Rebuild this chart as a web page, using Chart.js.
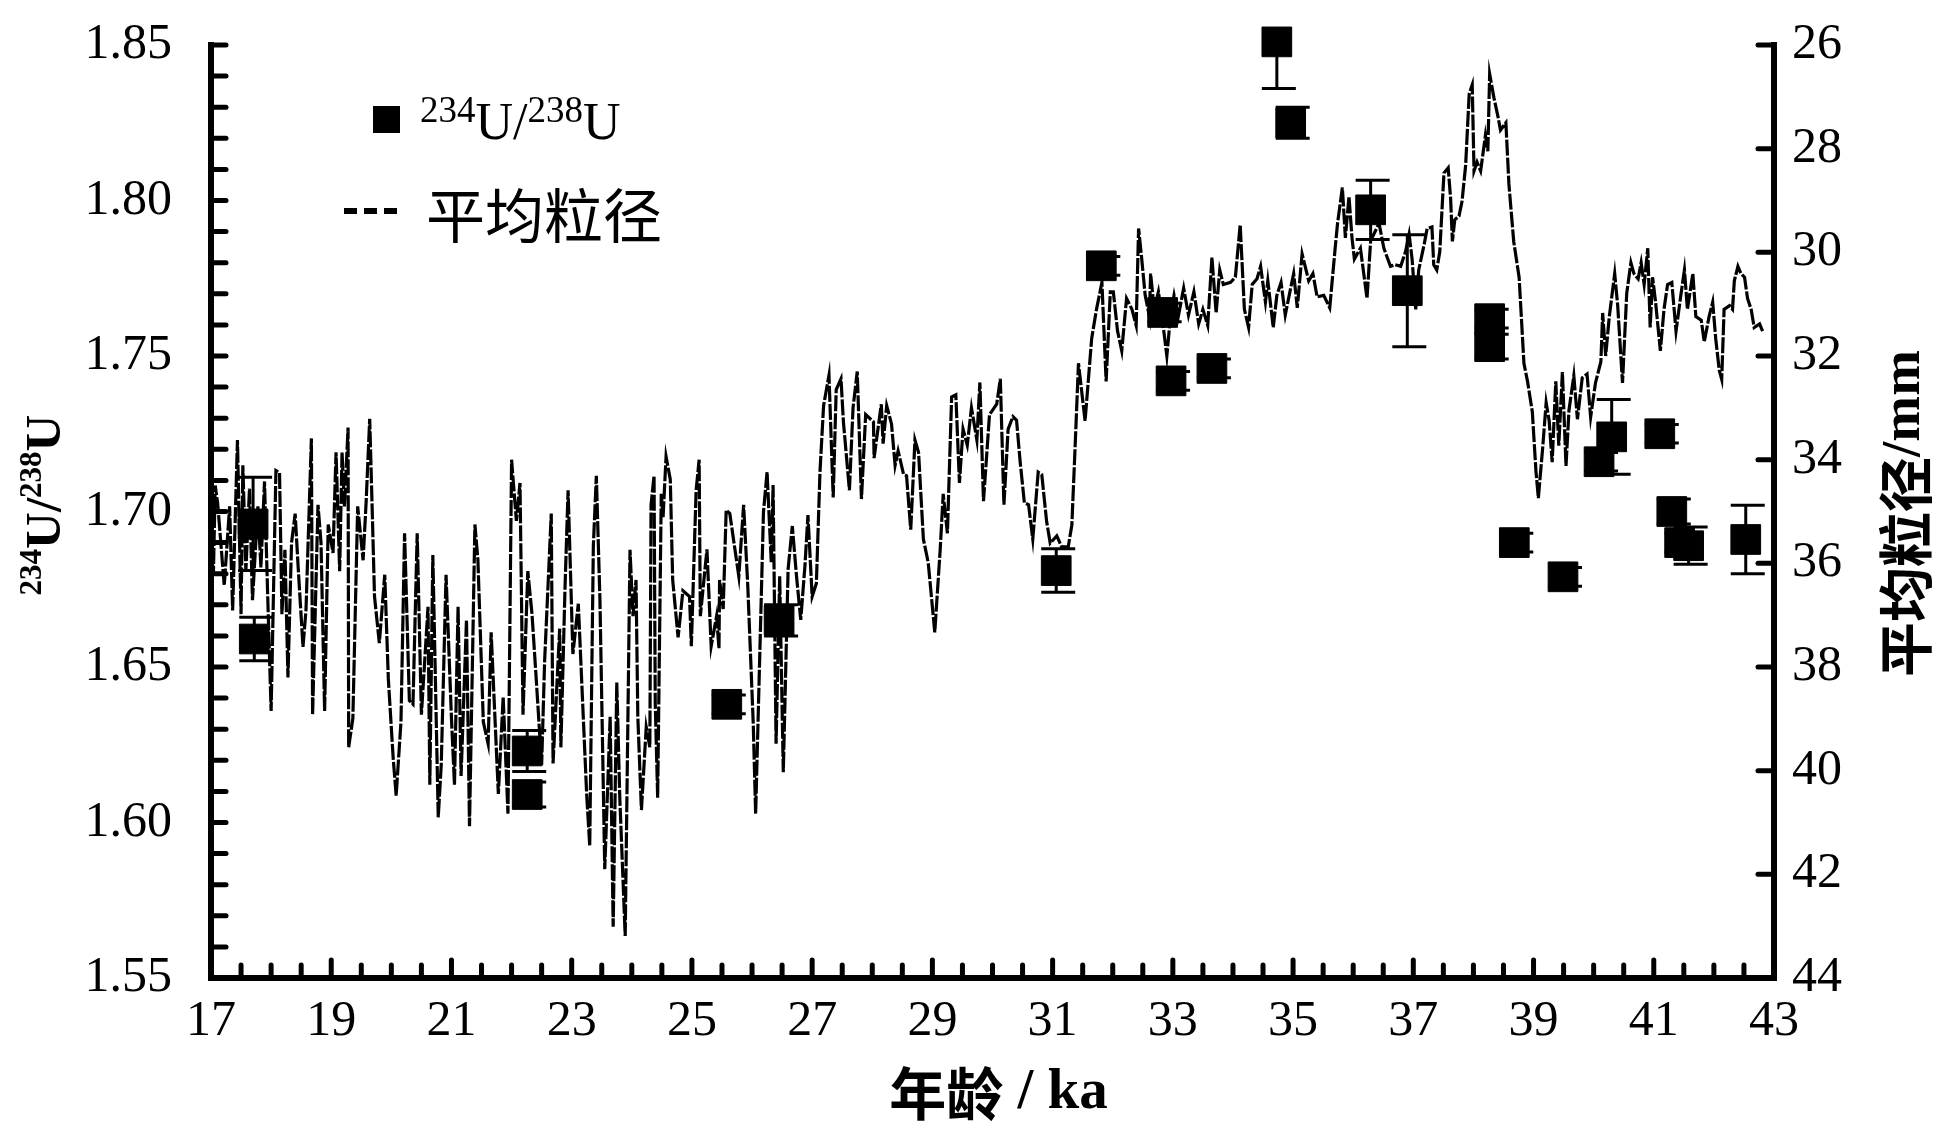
<!DOCTYPE html>
<html lang="zh">
<head>
<meta charset="utf-8">
<title>234U/238U 与平均粒径</title>
<script src="https://cdn.jsdelivr.net/npm/chart.js@4.4.1/dist/chart.umd.min.js"></script>
<style>
    html, body { margin: 0; padding: 0; background: #fff; }
    #wrap { position: relative; width: 1937px; height: 1137px; }
</style>
</head>
<body>
<div id="wrap"><canvas id="chart"></canvas></div>
<script>
( function () {
    'use strict';

    /* ── Tick labels ── */
    var xTicks  = [ 17, 19, 21, 23, 25, 27, 29, 31, 33, 35, 37, 39, 41, 43 ];
    var yTicks  = [ 1.55, 1.60, 1.65, 1.70, 1.75, 1.80, 1.85 ];
    var y2Ticks = [ 26, 28, 30, 32, 34, 36, 38, 40, 42, 44 ];

    /* ── 234U/238U (ka, ratio, ±err) ── */
    var uAge   = [ 17.70, 17.72, 22.26, 22.26, 25.58, 26.45, 31.06, 31.81, 32.83, 32.97, 33.65, 34.73, 34.96,
                   36.29, 36.90, 38.27, 38.27, 38.68, 39.49, 40.09, 40.30, 41.10, 41.30, 41.43, 41.58, 42.53 ];
    var uRatio = [ 1.696, 1.659, 1.623, 1.609, 1.638, 1.665, 1.681, 1.779, 1.764, 1.742, 1.746, 1.851, 1.825,
                   1.797, 1.771, 1.762, 1.753, 1.690, 1.679, 1.716, 1.724, 1.725, 1.700, 1.690, 1.689, 1.691 ];
    var uErr   = [ 0.015, 0.007, 0.0066, 0.004, 0.003, 0.005, 0.007, 0.003, 0.003, 0.003, 0.003, 0.015, 0.005,
                   0.0095, 0.018, 0.003, 0.004, 0.003, 0.003, 0.003, 0.012, 0.003, 0.004, 0.003, 0.006, 0.011 ];

    /* ── 平均粒径 (ka, mm) ── */
    var grainAge = [
        17.01, 17.04, 17.07, 17.11, 17.22, 17.31, 17.36, 17.44, 17.50, 17.53, 17.58, 17.64, 17.69, 17.78, 17.83,
        17.89, 17.94, 18.00, 18.08, 18.14, 18.18, 18.23, 18.28, 18.34, 18.40, 18.45, 18.53, 18.58, 18.67, 18.69,
        18.78, 18.83, 18.89, 18.95, 19.03, 19.08, 19.14, 19.18, 19.22, 19.28, 19.29, 19.36, 19.44, 19.53, 19.58,
        19.64, 19.68, 19.72, 19.80, 19.89, 19.95, 20.03, 20.08, 20.16, 20.22, 20.30, 20.36, 20.43, 20.50, 20.61,
        20.64, 20.69, 20.78, 20.83, 20.91, 21.00, 21.05, 21.11, 21.16, 21.25, 21.30, 21.39, 21.44, 21.53, 21.61,
        21.66, 21.78, 21.86, 21.94, 22.00, 22.08, 22.14, 22.19, 22.27, 22.34, 22.41, 22.50, 22.55, 22.66, 22.69,
        22.80, 22.82, 22.89, 22.94, 23.02, 23.11, 23.25, 23.30, 23.36, 23.41, 23.47, 23.52, 23.55, 23.64, 23.69,
        23.75, 23.80, 23.89, 23.97,
        24.02, 24.07, 24.10, 24.16, 24.24, 24.30, 24.32, 24.37, 24.39, 24.43, 24.49, 24.52, 24.57, 24.64, 24.68,
        24.77, 24.85, 24.96, 24.99, 25.07, 25.12, 25.14, 25.25, 25.32, 25.41, 25.45, 25.46, 25.52, 25.57, 25.63,
        25.78, 25.86, 25.93, 26.02, 26.06, 26.13, 26.19, 26.25, 26.32, 26.35, 26.40, 26.46, 26.52, 26.60, 26.67,
        26.74, 26.81, 26.88, 26.93, 27.00, 27.07, 27.13, 27.19, 27.28, 27.35, 27.40, 27.48, 27.52, 27.62, 27.68,
        27.75, 27.82, 27.89, 28.02, 28.03, 28.15, 28.18, 28.24, 28.32, 28.38, 28.43, 28.52, 28.57, 28.64, 28.71,
        28.77, 28.85, 28.93, 29.04, 29.13, 29.18, 29.25, 29.32, 29.39, 29.45, 29.51, 29.58, 29.65, 29.74, 29.79,
        29.85, 29.95, 30.07, 30.13, 30.19, 30.26, 30.34, 30.40, 30.46, 30.53, 30.60, 30.67, 30.76,
        30.82, 30.90, 30.96, 31.07, 31.15, 31.26, 31.32, 31.37, 31.43, 31.54, 31.65, 31.73, 31.82, 31.89, 31.96,
        32.01, 32.08, 32.15, 32.23, 32.32, 32.39, 32.43, 32.48, 32.54, 32.61, 32.63, 32.69, 32.76, 32.82, 32.90,
        32.96, 33.02, 33.09, 33.18, 33.26, 33.35, 33.43, 33.50, 33.58, 33.65, 33.72, 33.78, 33.84, 33.96, 34.04,
        34.12, 34.19, 34.26, 34.32, 34.40, 34.46, 34.54, 34.58, 34.67, 34.73, 34.80, 34.87, 34.96, 35.01, 35.07,
        35.15, 35.26, 35.33, 35.40, 35.51, 35.61, 35.70, 35.74, 35.82, 35.87, 35.93, 35.98, 36.02, 36.12, 36.23,
        36.29, 36.43, 36.51, 36.62, 36.70,
        36.79, 36.87, 36.93, 36.98, 37.04, 37.09, 37.18, 37.23, 37.31, 37.34, 37.39, 37.44, 37.51, 37.58, 37.62,
        37.65, 37.69, 37.76, 37.81, 37.87, 37.93, 37.98, 38.01, 38.06, 38.12, 38.20, 38.24, 38.27, 38.34, 38.41,
        38.45, 38.54, 38.59, 38.67, 38.76, 38.84, 38.90, 38.98, 39.04, 39.08, 39.15, 39.21, 39.26, 39.31, 39.37,
        39.42, 39.48, 39.54, 39.59, 39.67, 39.73, 39.81, 39.89, 39.95, 40.03, 40.12, 40.15, 40.20, 40.26, 40.35,
        40.40, 40.48, 40.55, 40.62, 40.67, 40.74, 40.79, 40.84, 40.90, 40.94, 40.98, 41.03, 41.11, 41.17, 41.23,
        41.30, 41.37, 41.45, 41.51, 41.56, 41.65, 41.70, 41.79, 41.84, 41.92, 41.98, 42.03, 42.09, 42.13, 42.17,
        42.26, 42.31, 42.34, 42.40, 42.45, 42.51, 42.56, 42.62, 42.67, 42.76, 42.81
    ];
    var grainSize = [
        35.00, 36.20, 34.50, 34.83, 36.43, 34.90, 36.91, 33.62, 36.98, 34.11, 36.15, 34.56, 36.71, 34.90, 36.08,
        34.42, 36.50, 38.85, 34.21, 34.25, 36.98, 35.74, 38.20, 35.60, 35.04, 36.08, 37.61, 36.91, 33.59, 38.92,
        34.87, 35.60, 38.85, 35.25, 35.80, 33.86, 36.15, 33.86, 34.90, 33.38, 39.55, 38.99, 34.90, 35.94, 34.83,
        33.21, 34.90, 36.64, 37.54, 36.22, 38.23, 39.75, 40.48, 39.06, 35.42, 38.65, 38.72, 35.42, 38.92, 36.84,
        40.27, 35.84, 40.90, 39.89, 36.22, 38.99, 40.27, 36.84, 40.10, 37.09, 41.07, 35.25, 35.94, 39.06, 39.48,
        37.33, 40.45, 38.58, 40.83, 34.00, 35.18, 34.45, 38.92, 36.15, 36.98, 38.23, 39.89, 37.88, 35.04, 39.86,
        37.26, 39.55, 36.43, 34.59, 37.75, 36.78, 40.48, 41.45, 35.67, 34.31, 36.71, 39.93, 41.90, 38.96, 43.01,
        38.30, 40.52, 43.19, 35.74,
        37.02, 36.32, 38.96, 40.76, 39.16, 39.55, 34.87, 34.31, 38.71, 40.52, 34.66, 35.11, 33.94, 34.38, 36.32,
        37.43, 36.53, 36.64, 37.60, 34.59, 34.00, 37.02, 35.73, 37.60, 37.02, 37.64, 36.32, 36.88, 34.97, 35.04,
        36.25, 34.87, 36.46, 39.09, 40.83, 37.71, 35.01, 34.24, 35.98, 34.49, 39.48, 36.25, 40.03, 36.11, 35.28,
        36.25, 37.09, 36.05, 35.07, 36.64, 36.39, 34.24, 32.96, 32.37, 34.73, 32.65, 32.44, 33.27, 34.59, 33.00,
        32.30, 34.76, 33.13, 33.27, 33.97, 32.93, 33.69, 32.96, 33.31, 34.11, 33.83, 34.28, 34.31, 35.35, 33.62,
        33.86, 35.53, 35.98, 37.33, 35.73, 34.66, 35.42, 32.79, 32.75, 34.45, 33.41, 33.72, 33.00, 33.62, 32.51,
        34.80, 33.13, 32.93, 32.44, 34.87, 33.41, 33.17, 33.24, 34.04, 34.83, 34.87, 35.53, 34.24,
        34.29, 35.19, 35.61, 35.47, 35.68, 35.68, 35.26, 33.87, 32.14, 33.25, 31.66, 31.10, 30.58, 32.49, 30.76,
        30.76, 31.52, 31.90, 30.89, 31.10, 31.41, 29.54, 30.10, 30.83, 31.24, 30.41, 31.10, 30.76, 31.24, 32.00,
        31.24, 30.83, 31.24, 30.69, 31.21, 30.76, 31.38, 31.10, 31.41, 30.10, 31.17, 30.34, 30.62, 30.58, 30.48,
        29.47, 31.10, 31.45, 30.62, 30.51, 30.27, 30.96, 30.55, 31.45, 30.83, 30.58, 31.21, 30.69, 30.41, 31.07,
        30.03, 30.55, 30.41, 30.86, 30.83, 31.07, 29.92, 29.44, 28.75, 29.72, 28.92, 29.72, 30.13, 29.92, 30.89,
        29.78, 29.44, 29.92, 30.27, 30.24,
        30.27, 29.99, 29.65, 30.13, 31.10, 30.34, 29.85, 29.54, 29.51, 30.24, 30.34, 29.99, 28.47, 28.37, 28.95,
        29.79, 29.37, 29.30, 29.02, 28.33, 26.94, 26.77, 28.43, 28.26, 28.43, 27.74, 28.05, 26.56, 27.01, 27.39,
        27.64, 27.50, 28.68, 29.79, 30.48, 32.14, 32.49, 33.08, 34.22, 34.74, 33.80, 32.90, 33.25, 34.05, 32.49,
        33.73, 32.31, 34.12, 33.04, 32.38, 33.22, 32.42, 32.35, 33.18, 32.52, 32.11, 31.17, 32.00, 31.24, 30.41,
        31.03, 32.52, 30.79, 30.20, 30.41, 30.51, 30.20, 30.62, 29.92, 31.45, 30.48, 30.96, 31.90, 31.10, 30.62,
        30.58, 31.52, 30.83, 30.34, 31.10, 30.41, 31.24, 31.31, 31.73, 31.24, 30.96, 31.66, 32.28, 32.45, 31.10,
        31.03, 31.10, 30.55, 30.27, 30.41, 30.48, 30.89, 31.10, 31.45, 31.38, 31.52
    ];

    /* ── Fonts ── */
    var SERIF = "'Liberation Serif', 'Times New Roman', serif";
    var CJK   = "'Noto Sans CJK SC', 'Noto Sans CJK TC', sans-serif";

    function fixTicks( list ) {
        return function ( scale ) {
            scale.ticks = list.map( function ( v ) { return { value: v }; } );
        };
    }

    // fixed box size, no extra label overhang padding
    function fixSize( prop, size ) {
        return function ( scale ) {
            scale[ prop ] = size;
            scale.paddingTop = scale.paddingBottom = 0;
            scale.paddingLeft = scale.paddingRight = 0;
        };
    }

    /* text made of runs, some of them raised (superscripts) */
    function drawRuns( ctx, runs, x, y, align ) {
        var total = 0;
        runs.forEach( function ( r ) {
            ctx.font = r.font;
            r.w = ctx.measureText( r.t ).width;
            total += r.w;
        } );
        var cx = align === 'center' ? x - total / 2 : x;
        ctx.textAlign = 'left';
        runs.forEach( function ( r ) {
            ctx.font = r.font;
            ctx.fillText( r.t, cx, y - ( r.rise || 0 ) );
            cx += r.w;
        } );
    }

    function seg( ctx, x1, y1, x2, y2 ) {
        ctx.beginPath();
        ctx.moveTo( x1, y1 );
        ctx.lineTo( x2, y2 );
        ctx.stroke();
    }

    /* ── Error bars, axes, inward ticks, titles, legend ── */
    var decor = {
        id: 'decor',
        afterDatasetsDraw: function ( chart ) {
            var ctx = chart.ctx, ca = chart.chartArea;
            var xs = chart.scales.x, ys = chart.scales.y;
            ctx.save();
            ctx.beginPath();
            ctx.rect( ca.left, ca.top, ca.right - ca.left, ca.bottom - ca.top );
            ctx.clip();
            ctx.strokeStyle = '#000';
            ctx.lineWidth = 3;
            uAge.forEach( function ( a, i ) {
                var px  = xs.getPixelForValue( a );
                var top = ys.getPixelForValue( uRatio[ i ] + uErr[ i ] );
                var bot = ys.getPixelForValue( uRatio[ i ] - uErr[ i ] );
                seg( ctx, px, top, px, bot );
                seg( ctx, px - 15, top, px + 19, top );
                seg( ctx, px - 15, bot, px + 19, bot );
            } );
            ctx.restore();
        },
        afterDraw: function ( chart ) {
            var ctx = chart.ctx, ca = chart.chartArea;
            var xs = chart.scales.x, ys = chart.scales.y, y2 = chart.scales.y2;
            var k, v, p;
            ctx.save();
            ctx.strokeStyle = '#000';
            ctx.fillStyle = '#000';

            // axis lines
            ctx.lineWidth = 6;
            ctx.lineCap = 'square';
            seg( ctx, ca.left, ca.top, ca.left, ca.bottom );
            seg( ctx, ca.left, ca.bottom, ca.right, ca.bottom );
            seg( ctx, ca.right, ca.top, ca.right, ca.bottom );

            // inward ticks
            ctx.lineWidth = 5;
            ctx.lineCap = 'round';
            for ( k = 1; k <= 30; k++ ) {
                v = ys.min + k * 0.01;
                p = ys.getPixelForValue( v );
                seg( ctx, ca.left, p, ca.left + 15, p );
            }
            for ( k = 1; k < 52; k++ ) {
                v = xs.min + k * 0.5;
                p = xs.getPixelForValue( v );
                seg( ctx, p, ca.bottom, p, ca.bottom - ( k % 4 === 0 ? 18 : 13 ) );
            }
            y2Ticks.forEach( function ( t ) {
                if ( t >= y2.max ) return;
                p = y2.getPixelForValue( t );
                seg( ctx, ca.right, p, ca.right - 16, p );
            } );

            // x title
            ctx.textBaseline = 'middle';
            drawRuns( ctx, [
                { t: '年龄', font: 'bold 57px ' + CJK },
                { t: ' / ka', font: 'bold 57px ' + SERIF }
            ], ( ca.left + ca.right ) / 2 + 6, 1093, 'center' );

            // left title (rotated)
            ctx.save();
            ctx.translate( 60, 505 );
            ctx.rotate( -Math.PI / 2 );
            ctx.textBaseline = 'alphabetic';
            drawRuns( ctx, [
                { t: '234', font: 'bold 31px ' + SERIF, rise: 19 },
                { t: 'U/',  font: 'bold 51px ' + SERIF },
                { t: '238', font: 'bold 31px ' + SERIF, rise: 19 },
                { t: 'U',   font: 'bold 51px ' + SERIF }
            ], 0, 0, 'center' );
            ctx.restore();

            // right title (rotated)
            ctx.save();
            ctx.translate( 1905, ( ca.top + ca.bottom ) / 2 + 2 );
            ctx.rotate( -Math.PI / 2 );
            ctx.textBaseline = 'middle';
            drawRuns( ctx, [
                { t: '平均粒径', font: 'bold 55px ' + CJK },
                { t: '/mm',     font: 'bold 55px ' + SERIF }
            ], 0, 0, 'center' );
            ctx.restore();

            // legend
            var lx = ca.left, ly = ca.top;
            ctx.fillRect( lx + 162, ly + 61, 27, 27 );
            ctx.textBaseline = 'alphabetic';
            drawRuns( ctx, [
                { t: '234', font: '37px ' + SERIF, rise: 17 },
                { t: 'U/',  font: '52px ' + SERIF },
                { t: '238', font: '37px ' + SERIF, rise: 17 },
                { t: 'U',   font: '52px ' + SERIF }
            ], lx + 209, ly + 94, 'left' );
            for ( k = 0; k < 3; k++ ) {
                ctx.fillRect( lx + 133 + k * 20, ly + 163, 13, 6 );
            }
            ctx.textBaseline = 'middle';
            drawRuns( ctx, [ { t: '平均粒径', font: '59px ' + CJK } ], lx + 215, ly + 171, 'left' );

            ctx.restore();
        }
    };

    var tickFont = { family: SERIF, size: 50 };

    new Chart( document.getElementById( 'chart' ), {
        type: 'scatter',
        data: {
            datasets: [ {
                type:            'scatter',
                label:           '234U/238U',
                data:            uAge.map( function ( a, i ) { return { x: a, y: uRatio[ i ] }; } ),
                xAxisID:         'x',
                yAxisID:         'y',
                pointStyle:      'rect',
                pointRadius:     21,
                pointHoverRadius: 21,
                backgroundColor: '#000',
                borderColor:     '#000',
                borderWidth:     1,
                clip:            false,
                order:           0,
            }, {
                type:            'line',
                label:           '平均粒径',
                data:            grainAge.map( function ( a, i ) { return { x: a, y: grainSize[ i ] }; } ),
                xAxisID:         'x',
                yAxisID:         'y2',
                borderColor:     '#000',
                borderWidth:     3.2,
                borderDash:      [ 16, 2 ],
                pointRadius:     0,
                tension:         0,
                fill:            false,
                order:           1,
            } ],
        },
        options: {
            responsive:          true,
            maintainAspectRatio: false,
            animation:           false,
            events:              [],
            layout: { autoPadding: false, padding: { top: 45, left: 0, right: 0, bottom: 0 } },
            plugins: {
                legend:  { display: false },
                tooltip: { enabled: false },
            },
            scales: {
                x: {
                    type: 'linear', position: 'bottom', min: 17, max: 43,
                    afterBuildTicks: fixTicks( xTicks ),
                    afterFit: fixSize( 'height', 159 ),
                    grid:   { display: false, drawTicks: false, tickLength: 0 },
                    border: { display: false },
                    ticks:  { font: tickFont, color: '#000', padding: 14, maxRotation: 0, autoSkip: false },
                },
                y: {
                    type: 'linear', position: 'left', min: 1.55, max: 1.85,
                    afterBuildTicks: fixTicks( yTicks ),
                    afterFit: fixSize( 'width', 211 ),
                    grid:   { display: false, drawTicks: false, tickLength: 0 },
                    border: { display: false },
                    ticks:  {
                        font: tickFont, color: '#000', padding: 39, autoSkip: false,
                        callback: function ( v ) { return Number( v ).toFixed( 2 ); },
                    },
                },
                y2: {
                    type: 'linear', position: 'right', min: 26, max: 44, reverse: true,
                    afterBuildTicks: fixTicks( y2Ticks ),
                    afterFit: fixSize( 'width', 163 ),
                    grid:   { display: false, drawTicks: false, tickLength: 0 },
                    border: { display: false },
                    ticks:  { font: tickFont, color: '#000', padding: 18, autoSkip: false },
                },
            },
        },
        plugins: [ decor ],
    } );

}() );
</script>
</body>
</html>
